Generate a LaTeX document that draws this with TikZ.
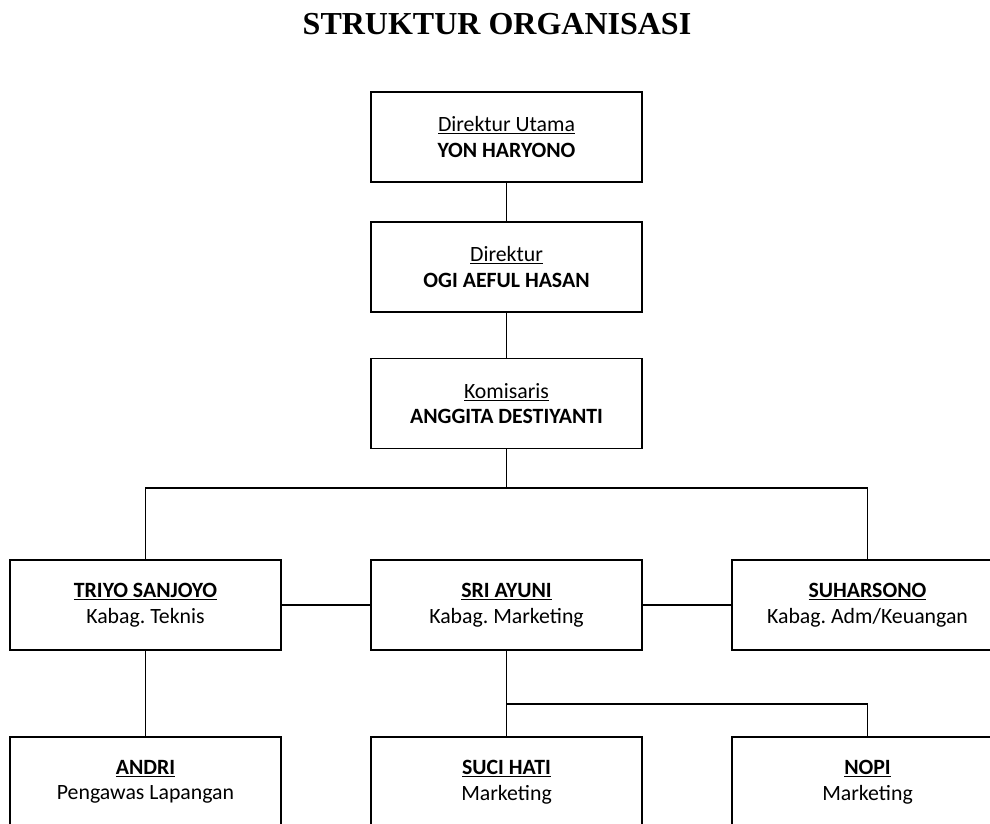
\documentclass[tikz,border=0pt]{standalone}
\usepackage{fontspec}
\setmainfont{Carlito}
\newfontfamily\titlefont{Liberation Serif}
\frenchspacing
\begin{document}
\begin{tikzpicture}[x=1pt,y=-1pt,
  orgbox/.style={draw=black, line width=1.3pt, fill=white,
    minimum width=271pt, minimum height=90pt, inner sep=0pt,
    align=center, font=\fontsize{21.8}{25.5}\selectfont},
  link/.style={draw=black, line width=1.3pt}]
  \useasboundingbox (0,0) rectangle (990,823);

  % heading
  \node[anchor=base, font=\titlefont\bfseries\fontsize{32}{36}\selectfont]
    (title) at (497,34.5) {STRUKTUR ORGANISASI};

  % management chain
  \node[orgbox] (utama) at (506.5,137) {\underline{Direktur Utama}\\\textbf{YON HARYONO}};
  \node[orgbox] (dir) at (506.5,267) {\underline{Direktur}\\\textbf{OGI AEFUL HASAN}};
  \node[orgbox] (kom) at (506.5,403.5) {\underline{Komisaris}\\\textbf{ANGGITA DESTIYANTI}};

  % heads of division
  \node[orgbox] (teknis) at (145.5,605) {\underline{\textbf{TRIYO SANJOYO}}\\Kabag. Teknis};
  \node[orgbox] (mkt) at (506.5,605) {\underline{\textbf{SRI AYUNI}}\\Kabag. Marketing};
  \node[orgbox] (adm) at (867.5,605) {\underline{\textbf{SUHARSONO}}\\Kabag. Adm/Keuangan};

  % staff
  \node[orgbox] (andri) at (145.5,782) {\underline{\textbf{ANDRI}}\\Pengawas Lapangan};
  \node[orgbox] (suci) at (506.5,782) {\underline{\textbf{SUCI HATI}}\\Marketing};
  \node[orgbox] (nopi) at (867.5,782) {\underline{\textbf{NOPI}}\\Marketing};

  % junction points of the branching lines
  \coordinate (bus) at (506.5,488);
  \coordinate (subbus) at (506.5,704);

  \draw[link] (utama.south) -- (dir.north);
  \draw[link] (dir.south) -- (kom.north);
  \draw[link] (kom.south) -- (bus);
  \draw[link] (teknis.north) -- (teknis.north |- bus) -- (adm.north |- bus) -- (adm.north);
  \draw[link] (teknis.east) -- (mkt.west);
  \draw[link] (mkt.east) -- (adm.west);
  \draw[link] (teknis.south) -- (andri.north);
  \draw[link] (mkt.south) -- (suci.north);
  \draw[link] (subbus) -| (nopi.north);
\end{tikzpicture}
\end{document}
